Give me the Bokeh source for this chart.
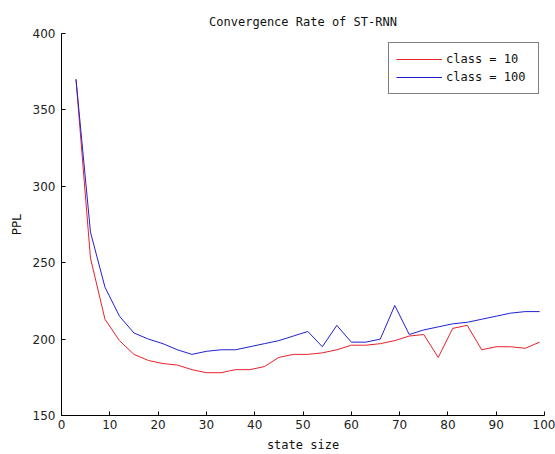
from bokeh.plotting import figure
from bokeh.models import Range1d, FixedTicker
from bokeh.embed import file_html
from bokeh.resources import INLINE

state_size = [3, 6, 9, 12, 15, 18, 21, 24, 27, 30, 33, 36, 39, 42, 45, 48, 51,
              54, 57, 60, 63, 66, 69, 72, 75, 78, 81, 84, 87, 90, 93, 96, 99]
ppl_class10 = [370, 253, 213, 199, 190, 186, 184, 183, 180, 178, 178, 180, 180,
               182, 188, 190, 190, 191, 193, 196, 196, 197, 199, 202, 203, 188,
               207, 209, 193, 195, 195, 194, 198]
ppl_class100 = [370, 270, 234, 215, 204, 200, 197, 193, 190, 192, 193, 193, 195,
                197, 199, 202, 205, 195, 209, 198, 198, 200, 222, 203, 206, 208,
                210, 211, 213, 215, 217, 218, 218]
x_ticks = [0, 10, 20, 30, 40, 50, 60, 70, 80, 90, 100]
y_ticks = [150, 200, 250, 300, 350, 400]

p = figure(width=555, height=454, output_backend="svg", toolbar_location=None,
           x_range=Range1d(0, 100), y_range=Range1d(150, 400),
           min_border_left=61, min_border_right=11, min_border_top=33, min_border_bottom=38)
p.outline_line_color = None
p.xgrid.grid_line_color = None
p.ygrid.grid_line_color = None
p.background_fill_color = "white"
p.border_fill_color = "white"

p.title.text = "Convergence Rate of ST-RNN"
p.title.align = "center"
p.title.text_font = "DejaVu Sans Mono"
p.title.text_font_size = "12px"
p.title.text_font_style = "normal"
p.title.text_color = "#111111"
p.title.offset = 0
p.title.standoff = 10

for ax in (p.xaxis[0], p.yaxis[0]):
    ax.axis_line_color = "black"
    ax.major_tick_line_color = "black"
    ax.major_tick_in = 4
    ax.major_tick_out = 0
    ax.minor_tick_line_color = None
    ax.major_label_text_font = "DejaVu Sans"
    ax.major_label_text_font_size = "12px"
    ax.major_label_text_color = "#222222"
    ax.axis_label_text_font = "DejaVu Sans Mono"
    ax.axis_label_text_font_size = "12px"
    ax.axis_label_text_font_style = "normal"
    ax.axis_label_text_color = "#111111"

p.xaxis[0].ticker = FixedTicker(ticks=x_ticks)
p.yaxis[0].ticker = FixedTicker(ticks=y_ticks)
p.xaxis[0].axis_label = "state size"
p.yaxis[0].axis_label = "PPL"
p.xaxis[0].major_label_standoff = 4
p.xaxis[0].axis_label_standoff = 6
p.yaxis[0].major_label_standoff = 6
p.yaxis[0].axis_label_standoff = 6

p.line(state_size, ppl_class10, line_color="#e8202a", line_width=1,
       legend_label="class = 10")
p.line(state_size, ppl_class100, line_color="#2020d0", line_width=1,
       legend_label="class = 100")

legend = p.legend[0]
legend.location = (327, 321)
legend.border_line_color = "black"
legend.border_line_width = 1
legend.background_fill_color = "white"
legend.background_fill_alpha = 1
legend.label_text_font = "DejaVu Sans Mono"
legend.label_text_font_size = "12px"
legend.label_text_color = "#111111"
legend.glyph_width = 46
legend.glyph_height = 18
legend.label_height = 18
legend.label_width = 85
legend.label_standoff = 4
legend.spacing = 0
legend.padding = 7
legend.margin = 0

open("out.html", "w").write(file_html(p, INLINE))
